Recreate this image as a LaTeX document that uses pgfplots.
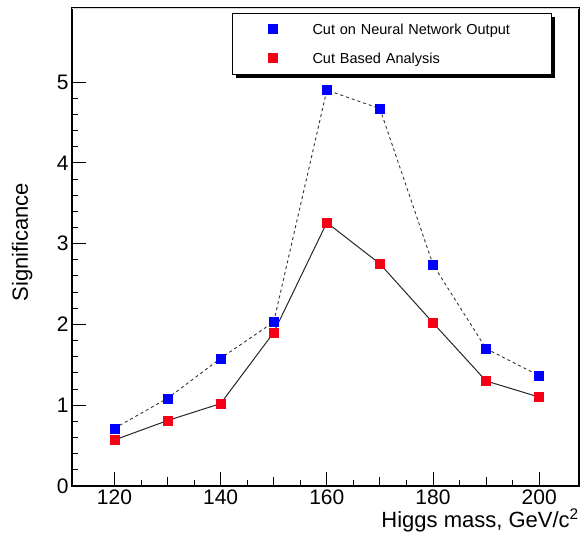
\documentclass[border=0pt]{standalone}
\usepackage{fontspec}
\setmainfont{Liberation Sans}
\usepackage{pgfplots}
\pgfplotsset{compat=1.18}
\usetikzlibrary{shadows}

\definecolor{nnblue}{RGB}{0,0,255}
\definecolor{cbred}{RGB}{245,0,20}

\begin{document}
\begin{tikzpicture}
\useasboundingbox (-72pt,-50pt) rectangle (509pt,486pt);
\begin{axis}[
    scale only axis,
    width=507pt, height=478pt,
    xmin=112, xmax=207.5,
    ymin=0, ymax=5.916,
    xtick={120,140,...,200},
    ytick={0,1,...,5},
    minor x tick num=3,
    minor y tick num=4,
    extra x ticks={130,150,170,190},
    extra x tick labels={},
    extra tick style={major tick length=9pt},
    major tick length=14pt,
    minor tick length=6pt,
    xtick pos=bottom, ytick pos=left,
    tick align=inside,
    tick style={black, line width=0.9pt},
    axis line style={black, line width=1.2pt},
    /pgf/number format/assume math mode=true,
    tick label style={font=\fontsize{21}{24}\selectfont},
    xlabel={Higgs mass, GeV/c\textsuperscript{2}},
    ylabel={Significance},
    xlabel style={font=\fontsize{22}{24}\selectfont, at={(axis description cs:1.0,-0.0858)}, anchor=base east, inner sep=0pt},
    ylabel style={font=\fontsize{22}{24}\selectfont, at={(axis description cs:-0.0775,0.51)}, anchor=south, rotate=0, inner sep=0pt},
    legend style={
        at={(axis description cs:0.3156,0.9895)}, anchor=north west,
        draw=black, line width=1pt, fill=white,
        inner xsep=0pt, inner ysep=10pt,
        row sep=17pt, column sep=0pt,
        font=\fontsize{14.5}{16}\selectfont,
        drop shadow={shadow xshift=3.5pt, shadow yshift=-3.5pt, fill=black, opacity=1},
        nodes={inner sep=0pt, text width=239pt, align=left, anchor=base west},
    },
    legend cell align=left,
    legend image code/.code={\path (0pt,0pt) (79pt,0pt); \draw[#1] plot coordinates {(40pt,5pt)};},
    after end axis/.code={\draw[black!15, line width=0.6pt] (rel axis cs:0,1) -- (rel axis cs:1,1);},
]
% lines first, markers on top
\addplot[black!80, line width=0.9pt, dash pattern=on 3pt off 3pt, forget plot] coordinates {
    (120,0.714) (130,1.085) (140,1.58) (150,2.03) (160,4.90)
    (170,4.67) (180,2.74) (190,1.70) (200,1.365)
};
\addplot[black!85, line width=1pt, forget plot] coordinates {
    (120,0.57) (130,0.81) (140,1.02) (150,1.90) (160,3.26)
    (170,2.75) (180,2.02) (190,1.30) (200,1.10)
};
\addplot[only marks, mark=square*, mark size=4.5pt, draw=nnblue, fill=nnblue] coordinates {
    (120,0.714) (130,1.085) (140,1.58) (150,2.03) (160,4.90)
    (170,4.67) (180,2.74) (190,1.70) (200,1.365)
};
\addlegendentry{Cut on Neural Network Output}
\addplot[only marks, mark=square*, mark size=4.5pt, draw=cbred, fill=cbred] coordinates {
    (120,0.57) (130,0.81) (140,1.02) (150,1.90) (160,3.26)
    (170,2.75) (180,2.02) (190,1.30) (200,1.10)
};
\addlegendentry{Cut Based Analysis}
\end{axis}
\end{tikzpicture}
\end{document}
